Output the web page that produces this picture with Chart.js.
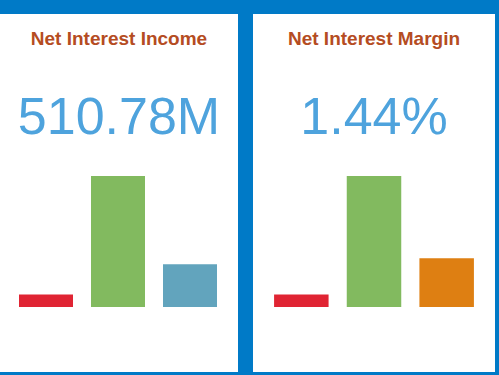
<!DOCTYPE html>
<html>
<head>
<meta charset="utf-8">
<script src="https://cdn.jsdelivr.net/npm/chart.js@4/dist/chart.umd.min.js"></script>
<style>
  html, body { margin: 0; padding: 0; }
  body { width: 499px; height: 375px; background: #007ac7; position: relative; overflow: hidden; font-family: "Liberation Sans", Arial, sans-serif; }
  .panel { position: absolute; top: 14px; height: 358px; background: #fff; }
  .title { position: absolute; left: 0; right: 0; top: 15px; text-align: center; font-weight: bold; font-size: 19px; line-height: 19px; color: #b54c22; }
  .kpi { position: absolute; left: 0; right: 0; top: 76px; text-align: center; font-size: 52px; line-height: 52px; color: #4ea3dd; }
  .panel canvas { position: absolute; top: 162px; height: 131px; }
</style>
</head>
<body>
<div class="panel" id="p1" style="left:0;width:238px">
  <div class="title" id="t1"></div>
  <div class="kpi" id="k1"></div>
  <canvas id="c1" style="left:10px;width:216px"></canvas>
</div>
<div class="panel" id="p2" style="left:253px;width:242px">
  <div class="title" id="t2"></div>
  <div class="kpi" id="k2"></div>
  <canvas id="c2" style="left:12px;width:218px"></canvas>
</div>
<script>
// titles and headline values
const titles = ['Net Interest Income', 'Net Interest Margin'];
const kpis = ['510.78M', '1.44%'];

// bar categories (no labels shown in the picture)
const categories = ['A', 'B', 'C'];

// bar values
const incomeValues = [48.3, 510.78, 166.5];
const marginValues = [0.137, 1.44, 0.535];

const incomeColors = ['#e02433', '#82ba5f', '#62a4bd'];
const marginColors = ['#e02433', '#82ba5f', '#de7f12'];

document.getElementById('t1').textContent = titles[0];
document.getElementById('t2').textContent = titles[1];
document.getElementById('k1').textContent = kpis[0];
document.getElementById('k2').textContent = kpis[1];

function makeChart(id, values, colors) {
  return new Chart(document.getElementById(id), {
    type: 'bar',
    data: {
      labels: categories,
      datasets: [{
        data: values,
        backgroundColor: colors,
        borderWidth: 0,
        barPercentage: 0.75,
        categoryPercentage: 1
      }]
    },
    options: {
      responsive: false,
      animation: false,
      layout: { padding: 0 },
      plugins: { legend: { display: false }, tooltip: { enabled: false } },
      scales: {
        x: { display: false },
        y: { display: false, min: 0, max: Math.max(...values) }
      }
    }
  });
}

document.getElementById('c1').width = 216;
document.getElementById('c1').height = 131;
document.getElementById('c2').width = 218;
document.getElementById('c2').height = 131;

makeChart('c1', incomeValues, incomeColors);
makeChart('c2', marginValues, marginColors);
</script>
</body>
</html>
